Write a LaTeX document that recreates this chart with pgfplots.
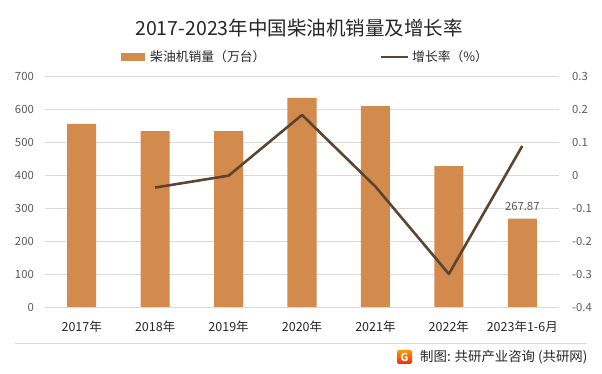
\documentclass[border=0pt]{standalone}
\usepackage{pgfplots}
\pgfplotsset{compat=1.18}
\usepackage{fontspec}
\setmainfont{Noto Sans CJK SC}
\definecolor{barc}{HTML}{D38B4D}
\definecolor{linec}{HTML}{5C4431}
\definecolor{gridc}{HTML}{D9D9D9}
\definecolor{tickc}{HTML}{595959}
\definecolor{txtc}{HTML}{262626}
\begin{document}
\begin{tikzpicture}
\path[use as bounding box] (0bp,0bp) rectangle (602bp,374bp);
% title
\node[font=\fontsize{19.5bp}{22bp}\selectfont, text=txtc] at (299bp,345.5bp) {2017-2023年中国柴油机销量及增长率};
% legend
\fill[barc] (121bp,313bp) rectangle (145bp,321bp);
\node[anchor=west, inner sep=0pt, font=\fontsize{12.8bp}{14bp}\selectfont, text=txtc] at (150bp,317bp) {柴油机销量（万台）};
\draw[linec, line width=2.6bp] (381bp,317bp) -- (408bp,317bp);
\node[anchor=west, inner sep=0pt, font=\fontsize{12.8bp}{14bp}\selectfont, text=txtc] at (412bp,317bp) {增长率（\%）};
\begin{axis}[
  at={(45bp,67bp)}, anchor=south west,
  scale only axis, width=514bp, height=231bp,
  xmin=-0.5, xmax=6.5, ymin=0, ymax=700,
  ytick={0,100,...,700},
  xtick={0,1,2,3,4,5,6},
  xticklabels={2017年,2018年,2019年,2020年,2021年,2022年,2023年1-6月},
  major tick length=0pt,
  axis line style={draw=none},
  ymajorgrids, grid style={gridc, line width=0.75bp},
  ybar, bar width=0.395,
  yticklabel style={font=\fontsize{11.3bp}{13bp}\selectfont, text=tickc, inner sep=0pt, xshift=-11bp},
  xticklabel style={font=\fontsize{12.5bp}{14bp}\selectfont, text=txtc, inner sep=0pt, yshift=-14bp},
  /pgf/number format/assume math mode=true,
  clip=false,
]
\addplot[fill=barc, draw=none] coordinates {(0,555) (1,533) (2,533) (3,634) (4,609) (5,427) (6,267.87)};
\node[font=\fontsize{11.3bp}{13bp}\selectfont, text=tickc, anchor=south, inner sep=0pt] at (axis cs:6,290) {267.87};
\end{axis}
\begin{axis}[
  at={(45bp,67bp)}, anchor=south west,
  scale only axis, width=514bp, height=231bp,
  xmin=-0.5, xmax=6.5, ymin=-0.4, ymax=0.3,
  axis y line*=right, axis x line=none,
  ytick={-0.4,-0.3,-0.2,-0.1,0,0.1,0.2,0.3},
  yticklabels={-0.4,-0.3,-0.2,-0.1,0,0.1,0.2,0.3},
  major tick length=0pt,
  axis line style={draw=none},
  yticklabel style={font=\fontsize{11.3bp}{13bp}\selectfont, text=tickc, inner sep=0pt, xshift=13bp, anchor=west},
]
\addplot[linec, line width=2.6bp, line join=round] coordinates {(1,-0.038) (2,-0.002) (3,0.182) (4,-0.035) (5,-0.300) (6,0.088)};
\end{axis}
% separator
\draw[gridc, line width=0.75bp] (15bp,31bp) -- (587bp,31bp);
% logo
\shade[top color=orange!80!yellow, bottom color=red!70!orange, rounded corners=2bp] (397bp,10bp) rectangle (412bp,24bp);
\node[text=white, font=\fontsize{11bp}{12bp}\selectfont\bfseries, inner sep=0pt] at (404.5bp,17bp) {G};
\node[anchor=west, inner sep=0pt, font=\fontsize{13.4bp}{15bp}\selectfont, text=txtc] at (420bp,17bp) {制图: 共研产业咨询 (共研网)};
\end{tikzpicture}
\end{document}
